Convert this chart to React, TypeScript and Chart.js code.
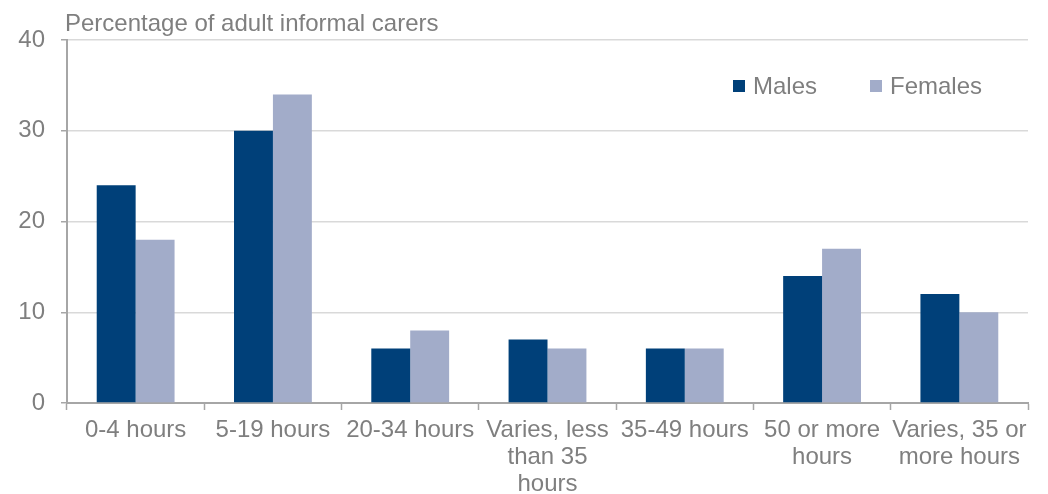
import React, { useEffect, useRef } from "react";
import { Chart, registerables } from "chart.js";

Chart.register(...registerables);

const categories: (string | string[])[] = [
  "0-4 hours",
  "5-19 hours",
  "20-34 hours",
  ["Varies, less", "than 35", "hours"],
  "35-49 hours",
  ["50 or more", "hours"],
  ["Varies, 35 or", "more hours"],
];
const males = [24, 30, 6, 7, 6, 14, 12];
const females = [18, 34, 8, 6, 6, 17, 10];
const yTitle = "Percentage of adult informal carers";

const FONT = "'Liberation Sans', Arial, sans-serif";
const TEXT = "#7f7f7f";
const AXIS = "#a6a6a6";
const GRID = "#d9d9d9";

const overlayPlugin = {
  id: "overlay",
  afterDraw(chart: any) {
    const { ctx, chartArea } = chart;
    ctx.save();
    ctx.font = `24px ${FONT}`;
    ctx.fillStyle = TEXT;
    ctx.textBaseline = "middle";
    ctx.textAlign = "left";
    ctx.fillText(yTitle, chartArea.left - 2, chartArea.top - 16);

    // legend
    const positions = [733, 870];
    chart.data.datasets.forEach((ds: any, i: number) => {
      const x = positions[i];
      const y = 87;
      ctx.fillStyle = ds.backgroundColor;
      ctx.fillRect(x, y - 7, 12, 12);
      ctx.fillStyle = TEXT;
      ctx.fillText(ds.label, x + 20, y);
    });
    ctx.restore();
  },
};

export default function App() {
  const ref = useRef<HTMLCanvasElement>(null);
  useEffect(() => {
    if (!ref.current) return;
    const chart = new Chart(ref.current, {
      type: "bar",
      data: {
        labels: categories,
        datasets: [
          { label: "Males", data: males, backgroundColor: "#004079", borderWidth: 0 },
          { label: "Females", data: females, backgroundColor: "#a2acc9", borderWidth: 0 },
        ],
      },
      options: {
        responsive: false,
        animation: false,
        devicePixelRatio: 1,
        layout: { padding: { top: 40, right: 20, left: 0, bottom: 0 } },
        datasets: { bar: { categoryPercentage: 0.567, barPercentage: 1 } },
        plugins: { legend: { display: false }, tooltip: { enabled: false } },
        scales: {
          x: {
            afterFit: (s: any) => { s.height = 91; },
            grid: {
              offset: true,
              drawOnChartArea: false,
              drawTicks: true,
              tickLength: 7,
              tickColor: AXIS,
              tickWidth: 1.5,
            },
            border: { color: AXIS, width: 2 },
            ticks: {
              color: TEXT,
              font: { family: FONT, size: 24, lineHeight: 1.125 },
              padding: 7,
              autoSkip: false,
              maxRotation: 0,
              minRotation: 0,
            },
          },
          y: {
            min: 0,
            max: 40,
            afterFit: (s: any) => { s.width = 67; },
            grid: {
              color: (c: any) => (c.tick && c.tick.value === 0 ? "rgba(0,0,0,0)" : GRID),
              lineWidth: 1.5,
              drawTicks: true,
              tickLength: 6,
              tickColor: AXIS,
              tickWidth: 1.5,
            },
            border: { color: AXIS, width: 2 },
            ticks: {
              stepSize: 10,
              color: TEXT,
              font: { family: FONT, size: 24 },
              padding: 16,
            },
          },
        },
      },
      plugins: [overlayPlugin],
    } as any);
    return () => chart.destroy();
  }, []);
  return (
    <div style={{ position: "absolute", left: 0, top: 0, width: 1048, height: 494, background: "#fff" }}>
      <canvas ref={ref} width={1048} height={494} />
    </div>
  );
}
